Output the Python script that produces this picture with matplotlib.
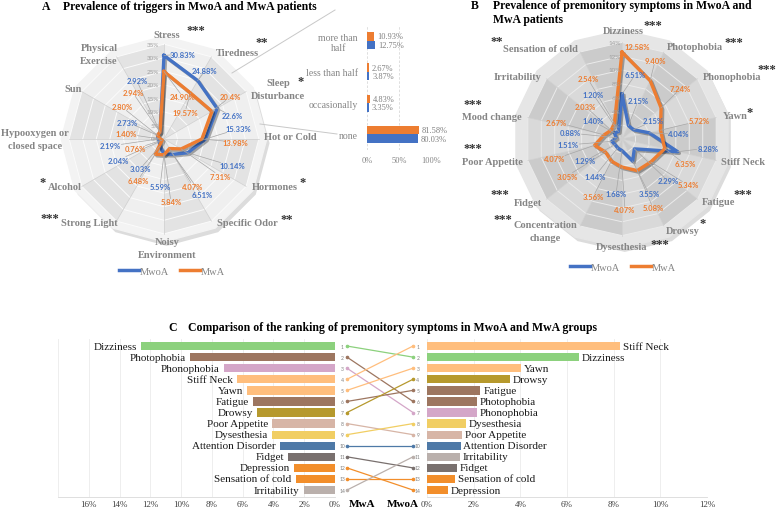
import numpy as np
import matplotlib
matplotlib.use("Agg")
import matplotlib.pyplot as plt
from matplotlib.lines import Line2D
import matplotlib.patheffects as pe

W, H = 777, 510
fig = plt.figure(figsize=(W / 100, H / 100), dpi=100)
fig.patch.set_facecolor("white")

SERIF = "Liberation Serif"
SANS = "Lato"
BLUE = "#4472C4"
ORANGE = "#ED7D31"
CAT_GRAY = "#858585"

# ---------------- DATA ----------------
A_categories = ["Stress", "Tiredness", "Sleep\nDisturbance", "Hot or Cold", "Hormones",
                "Specific Odor", "Noisy\nEnvironment", "Strong Light", "Alcohol",
                "Hypooxygen or\nclosed space", "Sun", "Physical\nExercise"]
A_stars = ["***", "**", "*", "", "*", "**", "", "***", "*", "", "", ""]
A_mwoa = [30.83, 24.88, 22.6, 15.33, 10.14, 6.51, 5.59, 3.03, 2.04, 2.19, 2.73, 2.92]
A_mwa = [24.90, 19.57, 20.4, 13.98, 7.31, 4.07, 5.84, 6.48, 0.76, 1.40, 2.80, 2.94]
A_decimals = [2, 2, 1, 2, 2, 2, 2, 2, 2, 2, 2, 2]
A_ticks = [0, 5, 10, 15, 20, 25, 30, 35]

sleep_categories = ["more than\nhalf", "less than half", "occasionally", "none"]
sleep_mwa = [10.93, 2.67, 4.83, 81.58]
sleep_mwoa = [12.75, 3.87, 3.35, 80.03]
sleep_ticks = [0, 50, 100]

B_categories = ["Dizziness", "Photophobia", "Phonophobia", "Yawn", "Stiff Neck", "Fatigue",
                "Drowsy", "Dysesthesia", "Concentration\nchange", "Fidget", "Poor Appetite",
                "Mood change", "Irritability", "Sensation of cold"]
B_stars = ["***", "***", "***", "*", "", "***", "*", "***", "***", "***", "***", "***", "", "**"]
B_mwoa = [6.51, 2.15, 2.15, 4.04, 8.28, 2.29, 3.55, 1.68, 1.44, 1.29, 1.51, 0.88, 1.40, 1.20]
B_mwa = [12.58, 9.40, 7.24, 5.72, 6.35, 5.34, 5.08, 4.07, 3.56, 3.05, 4.07, 2.67, 2.03, 2.54]
B_ticks = [0, 2, 4, 6, 8, 10, 12, 14]

C_mwa_names = ["Dizziness", "Photophobia", "Phonophobia", "Stiff Neck", "Yawn", "Fatigue",
               "Drowsy", "Poor Appetite", "Dysesthesia", "Attention Disorder", "Fidget",
               "Depression", "Sensation of cold", "Irritability"]
C_mwa_values = [12.58, 9.40, 7.24, 6.35, 5.72, 5.34, 5.08, 4.07, 4.07, 3.56, 3.05, 2.67, 2.54, 2.03]
C_mwoa_names = ["Stiff Neck", "Dizziness", "Yawn", "Drowsy", "Fatigue", "Photophobia",
                "Phonophobia", "Dysesthesia", "Poor Appetite", "Attention Disorder",
                "Irritability", "Fidget", "Sensation of cold", "Depression"]
C_mwoa_values = [8.28, 6.51, 4.04, 3.55, 2.29, 2.15, 2.15, 1.68, 1.51, 1.44, 1.40, 1.29, 1.20, 0.88]
C_left_ticks = [0, 2, 4, 6, 8, 10, 12, 14, 16]
C_right_ticks = [0, 2, 4, 6, 8, 10, 12]

# ---------------- STYLE / LAYOUT ----------------
SYM_COLORS = {
    "Dizziness": "#8CD17D", "Photophobia": "#9D7660", "Phonophobia": "#D4A6C8",
    "Stiff Neck": "#FFBE7D", "Yawn": "#FFBE7D", "Fatigue": "#9D7660", "Drowsy": "#B6992D",
    "Poor Appetite": "#D7B5A6", "Dysesthesia": "#F1CE63", "Attention Disorder": "#4E79A7",
    "Fidget": "#79706E", "Depression": "#F28E2B", "Sensation of cold": "#F28E2B",
    "Irritability": "#BAB0AC",
}

A_cat_pos = [(167, 35), (237, 54), (278, 90), (290, 138), (275, 188), (247, 223), (167, 249),
             (89, 223), (65, 188), (35, 140), (73, 90), (99, 55)]
A_star_pos = [(196, 28), (262, 40), (301, 79), None, (303, 180), (287, 217), None,
              (50, 216), (43, 180), None, None, None]
A_mwoa_lbl = [(183, 55), (205, 72), (232, 117), (238, 130), (232, 167), (202, 196), (160, 188),
              (140, 170), (118, 161), (110, 147), (127, 123), (137, 82)]
A_mwa_lbl = [(183, 98), (185, 113), (230, 98), (235, 143), (220, 177), (193, 187), (171, 203),
             (138, 181), (135, 150), (126, 135), (122, 108), (133, 94)]

B_cat_pos = [(623, 32), (695, 48), (732, 77), (735, 117), (743, 163), (719, 203), (683, 232),
             (622, 248), (545, 232), (528, 204), (492, 163), (492, 118), (518, 77), (540, 49)]
B_star_pos = [(653, 23), (734, 40), (767, 67), (750, 110), None, (743, 192), (703, 221),
              (660, 242), (503, 217), (500, 192), (473, 146), (473, 102), None, (497, 39)]
B_mwoa_lbl = [(635, 76), (638, 102), (653, 122), (679, 135), (708, 149), (668, 182), (649, 195),
              (616, 195), (595, 177), (585, 162), (568, 146), (570, 134), (593, 122), (593, 95)]
B_mwa_lbl = [(637, 48), (655, 62), (680, 90), (699, 122), (685, 165), (688, 186), (653, 209),
             (625, 211), (593, 198), (567, 177), (555, 160), (556, 123), (585, 107), (588, 80)]
LINE_H = 13


def fx(x):
    return x / W


def fy(y):
    return 1 - y / H


def ftext(x, y, s, **kw):
    return fig.text(fx(x), fy(y), s, **kw)


def leader(ax, theta, r, lx, ly, hw=11.5, hh=3.5):
    px, py = ax.transData.transform((theta, r))
    py = H - py
    dx, dy = px - lx, py - ly
    tx = hw / abs(dx) if abs(dx) > 1e-9 else np.inf
    ty = hh / abs(dy) if abs(dy) > 1e-9 else np.inf
    t = min(tx, ty)
    if t >= 1:
        return
    sx, sy = lx + dx * t, ly + dy * t
    if np.hypot(px - sx, py - sy) < 7:
        return
    fig.add_artist(Line2D([fx(sx), fx(px)], [fy(sy), fy(py)], transform=fig.transFigure,
                          color="#a6a6a6", lw=0.5, zorder=2.5))


def radar(center, scale, r_outer, grid_max, step, mwoa, mwa, shades, outer_color, ring_color):
    cx, cy = center
    R = r_outer * scale
    ax = fig.add_axes([fx(cx - R), fy(cy + R), 2 * R / W, 2 * R / H], projection="polar")
    ax.set_theta_zero_location("N")
    ax.set_theta_direction(-1)
    ax.set_ylim(0, r_outer)
    ax.set_axis_off()
    n = len(mwoa)
    th = np.arange(n) * 2 * np.pi / n
    thc = np.append(th, th[0])
    ax.fill(thc, np.full(n + 1, r_outer * 0.985), color=outer_color, zorder=0.2, clip_on=False,
            path_effects=[pe.SimplePatchShadow(offset=(2, -3), shadow_rgbFace="#8c8c8c", alpha=0.3),
                          pe.Normal()])
    for i in range(n):
        t1, t2 = th[i], th[(i + 1) % n]
        ax.fill([0, t1, t2, 0], [0, grid_max, grid_max, 0], color=shades[i % len(shades)],
                zorder=0.4, lw=0)
    for lev in np.arange(step, grid_max + 1e-9, step):
        ax.plot(thc, np.full(n + 1, lev), color=ring_color, lw=0.7, zorder=0.6)
    for t in th:
        ax.plot([t, t], [0, grid_max], color="#cfcfcf", lw=0.5, zorder=0.6)
    shadow = [pe.SimpleLineShadow(offset=(1.2, -1.2), alpha=0.3, shadow_color="k"), pe.Normal()]
    ax.plot(thc, np.append(mwoa, mwoa[0]), color=BLUE, lw=2.4, zorder=3,
            solid_joinstyle="round", path_effects=shadow)
    ax.plot(thc, np.append(mwa, mwa[0]), color=ORANGE, lw=2.4, zorder=3.1,
            solid_joinstyle="round", path_effects=shadow)
    return ax, th


def categories(labels, stars, pos, star_pos):
    for lab, st, p, sp in zip(labels, stars, pos, star_pos):
        lines = lab.split("\n")
        m = len(lines)
        for k, line in enumerate(lines):
            ftext(p[0], p[1] + (k - (m - 1) / 2) * LINE_H, line, ha="center", va="center",
                  family=SERIF, weight="bold", size=7.5, color=CAT_GRAY)
        if st and sp is not None:
            ftext(sp[0], sp[1] + 3, st, ha="center", va="center", family=SERIF,
                  weight="bold", size=9, color="#333333")


def value_labels(ax, th, vals, pos, color, decimals=None):
    for i, (v, p) in enumerate(zip(vals, pos)):
        d = 2 if decimals is None else decimals[i]
        leader(ax, th[i], v, p[0], p[1])
        ftext(p[0], p[1], f"{v:.{d}f}%", ha="center", va="center", family=SANS,
              weight="bold", size=5.5, color=color, zorder=4)


# ---------------- PANEL A ----------------
axA, thA = radar((164, 140), 2.71, 38.5, 35, 5, A_mwoa, A_mwa,
                 ["#efefef", "#e3e3e3"], "#f3f3f3", "#fbfbfb")
for v in A_ticks:
    axA.annotate(f"{v}%", xy=(0, v), xytext=(-3.5, 0), textcoords="offset points",
                 ha="right", va="center", family=SANS, size=4.5, color="#a0a0a0",
                 annotation_clip=False, zorder=5)
categories(A_categories, A_stars, A_cat_pos, A_star_pos)
value_labels(axA, thA, A_mwoa, A_mwoa_lbl, BLUE, A_decimals)
value_labels(axA, thA, A_mwa, A_mwa_lbl, ORANGE, A_decimals)

ftext(42, 7, "A", ha="left", va="center", family=SERIF, weight="bold", size=8.5)
ftext(63, 7, "Prevalence of triggers in MwoA and MwA patients", ha="left", va="center",
      family=SERIF, weight="bold", size=8.5)

fig.legend([Line2D([], [], color=BLUE, lw=2.5), Line2D([], [], color=ORANGE, lw=2.5)],
           ["MwoA", "MwA"], loc="center", bbox_to_anchor=(fx(172), fy(272)), ncol=2,
           frameon=False, prop={"family": SERIF, "size": 7.5}, labelcolor=CAT_GRAY,
           handlelength=1.9, handletextpad=0.15, columnspacing=1.0)

for (x1, y1), (x2, y2) in [((232, 74), (335, 11)), ((260, 125), (337, 135))]:
    fig.add_artist(Line2D([fx(x1), fx(x2)], [fy(y1), fy(y2)], transform=fig.transFigure,
                          color="#c8c8c8", lw=0.7, zorder=1))

# sleep inset
axS = fig.add_axes([fx(367), fy(151), 64 / W, 125 / H])
yS = np.arange(len(sleep_categories))
bh = 0.27
axS.barh(yS - bh / 2, sleep_mwa, height=bh, color=ORANGE, zorder=2)
axS.barh(yS + bh / 2, sleep_mwoa, height=bh, color=BLUE, zorder=2)
axS.set_xlim(0, 100)
axS.set_ylim(3.5, -0.5)
axS.set_yticks(yS)
axS.set_yticklabels(sleep_categories, family=SERIF, size=7, color=CAT_GRAY)
for lab in axS.get_yticklabels():
    lab.set_multialignment("center")
axS.set_xticks(sleep_ticks)
axS.set_xticklabels([f"{t}%" for t in sleep_ticks], family=SERIF, size=6, color=CAT_GRAY)
axS.tick_params(axis="y", length=0, pad=6.5)
axS.tick_params(axis="x", length=0, pad=4)
for s in axS.spines.values():
    s.set_visible(False)
axS.xaxis.grid(True, color="#d9d9d9", lw=0.6, ls=(0, (3, 2)))
axS.set_axisbelow(True)
for y, v in zip(yS, sleep_mwa):
    axS.annotate(f"{v:.2f}%", xy=(v, y - bh / 2), xytext=(2, 0), textcoords="offset points",
                 ha="left", va="center", family=SERIF, size=6, color="#7f7f7f",
                 annotation_clip=False)
for y, v in zip(yS, sleep_mwoa):
    axS.annotate(f"{v:.2f}%", xy=(v, y + bh / 2), xytext=(2, 0), textcoords="offset points",
                 ha="left", va="center", family=SERIF, size=6, color="#7f7f7f",
                 annotation_clip=False)

# ---------------- PANEL B ----------------
axB, thB = radar((622, 140), 6.9, 16.0, 14, 2, B_mwoa, B_mwa,
                 ["#d9d9d9", "#cbcbcb"], "#e6e6e6", "#ebebeb")
for v in B_ticks:
    axB.annotate(f"{v}%", xy=(0, v), xytext=(-1, 0), textcoords="offset points",
                 ha="right", va="center", family=SANS, size=4.5, color="#a0a0a0",
                 annotation_clip=False, zorder=5)
categories(B_categories, B_stars, B_cat_pos, B_star_pos)
value_labels(axB, thB, B_mwoa, B_mwoa_lbl, BLUE)
value_labels(axB, thB, B_mwa, B_mwa_lbl, ORANGE)

ftext(471, 6, "B", ha="left", va="center", family=SERIF, weight="bold", size=8.5)
ftext(493, 6, "Prevalence of premonitory symptoms in MwoA and", ha="left", va="center",
      family=SERIF, weight="bold", size=8.5)
ftext(493, 20, "MwA patients", ha="left", va="center", family=SERIF, weight="bold", size=8.5)

fig.legend([Line2D([], [], color=BLUE, lw=2.5), Line2D([], [], color=ORANGE, lw=2.5)],
           ["MwoA", "MwA"], loc="center", bbox_to_anchor=(fx(623), fy(268)), ncol=2,
           frameon=False, prop={"family": SERIF, "size": 7.5}, labelcolor=CAT_GRAY,
           handlelength=1.9, handletextpad=0.15, columnspacing=1.0)

# ---------------- PANEL C ----------------
ftext(168, 328, "C", ha="left", va="center", family=SERIF, weight="bold", size=8.5)
ftext(188, 328, "Comparison of the ranking of premonitory symptoms in MwoA and MwA groups",
      ha="left", va="center", family=SERIF, weight="bold", size=8.5)

c_top, c_bot = 340.4, 497.7
nC = len(C_mwa_names)
ylimC = (nC - 0.4, -0.6)


def style_bar_axes(ax, ticks):
    ax.set_ylim(*ylimC)
    ax.set_yticks([])
    ax.set_xticks(ticks)
    ax.set_xticklabels([f"{t}%" for t in ticks], family=SERIF, size=6.5, color="#404040")
    ax.tick_params(axis="x", length=0, pad=2.5)
    for k in ("left", "right", "top"):
        ax.spines[k].set_visible(False)
    ax.spines["bottom"].set_color("#d9d9d9")
    ax.spines["bottom"].set_linewidth(0.6)
    ax.xaxis.grid(True, color="#ebebeb", lw=0.6)
    ax.set_axisbelow(True)


axL = fig.add_axes([fx(58), fy(c_bot), (335 - 58) / W, (c_bot - c_top) / H])
yC = np.arange(nC)
axL.barh(yC, C_mwa_values, height=0.75, color=[SYM_COLORS[n] for n in C_mwa_names], zorder=2)
axL.set_xlim(18, 0)
style_bar_axes(axL, C_left_ticks)
axL.axvline(18, color="#ebebeb", lw=0.6, zorder=0)
for y, nme, v in zip(yC, C_mwa_names, C_mwa_values):
    axL.annotate(nme, xy=(v, y), xytext=(-3, 0), textcoords="offset points", ha="right",
                 va="center", family=SERIF, size=8, color="#1a1a1a", annotation_clip=False)

axR = fig.add_axes([fx(427), fy(c_bot), (707 - 427) / W, (c_bot - c_top) / H])
axR.barh(yC, C_mwoa_values, height=0.75, color=[SYM_COLORS[n] for n in C_mwoa_names], zorder=2)
axR.set_xlim(0, 12)
style_bar_axes(axR, C_right_ticks)
for y, nme, v in zip(yC, C_mwoa_names, C_mwoa_values):
    axR.annotate(nme, xy=(v, y), xytext=(2, 0), textcoords="offset points", ha="left",
                 va="center", family=SERIF, size=8, color="#1a1a1a", annotation_clip=False)

axM = fig.add_axes([fx(338), fy(c_bot), 84 / W, (c_bot - c_top) / H])
axM.set_xlim(0, 1)
axM.set_ylim(*ylimC)
axM.set_axis_off()
for iL, nme in enumerate(C_mwa_names):
    iR = C_mwoa_names.index(nme)
    axM.plot([0.107, 0.893], [iL, iR], color=SYM_COLORS[nme], lw=0.9, marker="o", ms=1.6,
             zorder=2)
for i in range(nC):
    axM.text(0.05, i, str(i + 1), ha="center", va="center", family=SANS, size=3.6,
             color="#7f7f7f")
    axM.text(0.95, i, str(i + 1), ha="center", va="center", family=SANS, size=3.6,
             color="#7f7f7f")

ftext(362, 505, "MwA", ha="center", va="center", family=SERIF, weight="bold", size=8)
ftext(403, 505, "MwoA", ha="center", va="center", family=SERIF, weight="bold", size=8)

fig.savefig("out.png", dpi=100)
